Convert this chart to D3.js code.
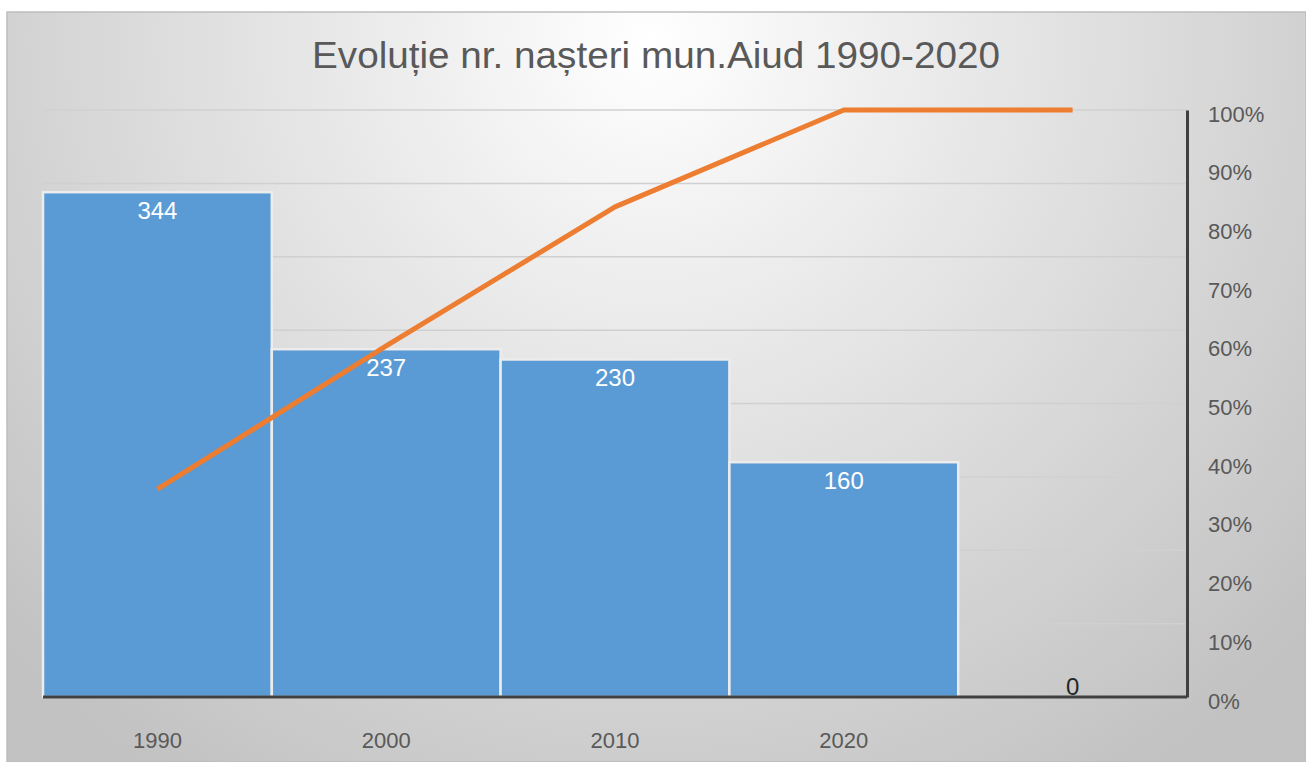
<!DOCTYPE html>
<html>
<head>
<meta charset="utf-8">
<script src="https://cdn.jsdelivr.net/npm/d3@7"></script>
<style>
  html, body { margin: 0; padding: 0; background: #fff; }
  svg { display: block; }
</style>
</head>
<body>
<div id="chart"></div>
<script>
// Datos del gráfico (Pareto)
const categories = ["1990", "2000", "2010", "2020", ""];
const births = [344, 237, 230, 160, 0];
const cumulative = [0.354, 0.598, 0.835, 1.0, 1.0];
const percentTicks = [0, 0.1, 0.2, 0.3, 0.4, 0.5, 0.6, 0.7, 0.8, 0.9, 1.0];
const countTicks = [0, 50, 100, 150, 200, 250, 300, 350, 400];

const W = 1306, H = 762;
const margin = { top: 110, right: 119, bottom: 65, left: 43 };
const width = W - margin.left - margin.right,
      height = H - margin.top - margin.bottom;

const svg = d3.select("#chart")
    .append("svg")
    .attr("width", W)
    .attr("height", H);

// Fondo con degradado
const defs = svg.append("defs");
const grad = defs.append("radialGradient")
    .attr("id", "bg")
    .attr("gradientUnits", "userSpaceOnUse")
    .attr("cx", 650).attr("cy", 40)
    .attr("r", 880);
grad.append("stop").attr("offset", "0%").attr("stop-color", "#ffffff");
grad.append("stop").attr("offset", "30%").attr("stop-color", "#ececec");
grad.append("stop").attr("offset", "100%").attr("stop-color", "#c2c2c2");

svg.append("rect")
    .attr("x", 7).attr("y", 12)
    .attr("width", W - 7).attr("height", H - 12)
    .attr("fill", "url(#bg)")
    .attr("stroke", "#bdbdbd")
    .attr("stroke-width", 1.5);

svg.append("text")
    .attr("x", 656)
    .attr("y", 68)
    .attr("text-anchor", "middle")
    .attr("font-family", "Liberation Sans, Arial, sans-serif")
    .attr("font-size", 36)
    .attr("textLength", 688)
    .attr("lengthAdjust", "spacingAndGlyphs")
    .attr("fill", "#595959")
    .text("Evoluție nr. nașteri mun.Aiud 1990-2020");

const g = svg.append("g")
    .attr("transform", `translate(${margin.left},${margin.top})`);

const x = d3.scaleBand()
    .domain(categories.map((d, i) => i))
    .range([0, width])
    .padding(0);

const y = d3.scaleLinear()
    .domain([0, 400])
    .range([height, 0]);

const y2 = d3.scaleLinear()
    .domain([0, 1])
    .range([height, 0]);

// Líneas de cuadrícula
g.selectAll(".grid")
    .data(countTicks.slice(1))
    .enter()
    .append("line")
    .attr("x1", 0).attr("x2", width)
    .attr("y1", d => y(d)).attr("y2", d => y(d))
    .attr("stroke", "#d0d0d0")
    .attr("stroke-width", 1.5);

// Barras
g.selectAll(".bar")
    .data(births)
    .enter()
    .append("rect")
    .attr("x", (d, i) => x(i))
    .attr("y", d => y(d))
    .attr("width", x.bandwidth())
    .attr("height", d => height - y(d))
    .attr("fill", "#5b9bd5")
    .attr("stroke", "#ececec")
    .attr("stroke-width", 2.5);

// Etiquetas de datos
g.selectAll(".label")
    .data(births)
    .enter()
    .append("text")
    .attr("x", (d, i) => x(i) + x.bandwidth() / 2)
    .attr("y", d => d > 0 ? y(d) + 27 : y(d) - 2)
    .attr("text-anchor", "middle")
    .attr("font-family", "Liberation Sans, Arial, sans-serif")
    .attr("font-size", 24)
    .attr("fill", d => d > 0 ? "#ffffff" : "#262626")
    .text(d => d);

// Eje X
g.append("line")
    .attr("x1", 0).attr("x2", width)
    .attr("y1", height).attr("y2", height)
    .attr("stroke", "#404040")
    .attr("stroke-width", 3);

g.selectAll(".xlab")
    .data(categories)
    .enter()
    .append("text")
    .attr("x", (d, i) => x(i) + x.bandwidth() / 2)
    .attr("y", height + 51)
    .attr("text-anchor", "middle")
    .attr("font-family", "Liberation Sans, Arial, sans-serif")
    .attr("font-size", 22)
    .attr("fill", "#595959")
    .text(d => d);

// Eje secundario (porcentaje)
const axisR = g.append("g")
    .attr("transform", `translate(${width},0)`)
    .call(d3.axisRight(y2).tickValues(percentTicks).tickFormat(d3.format(".0%")).tickSize(0).tickPadding(21));
axisR.select(".domain")
    .attr("stroke", "#404040")
    .attr("stroke-width", 3);
axisR.selectAll("text")
    .attr("font-family", "Liberation Sans, Arial, sans-serif")
    .attr("font-size", 22)
    .attr("fill", "#595959")
    .attr("dy", "0.5em");

// Línea acumulada
const line = d3.line()
    .x((d, i) => x(i) + x.bandwidth() / 2)
    .y(d => y2(d));

g.append("path")
    .datum(cumulative)
    .attr("d", line)
    .attr("fill", "none")
    .attr("stroke", "#ed7d31")
    .attr("stroke-width", 5)
    .attr("stroke-linejoin", "round");
</script>
</body>
</html>
